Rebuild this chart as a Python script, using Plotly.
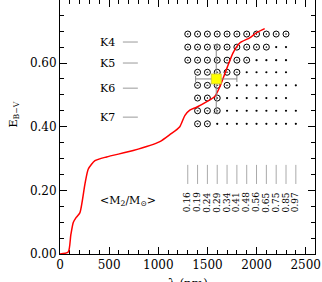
import plotly.graph_objects as go

# Red curve: E(B-V) vs wavelength
curve_x = [0, 84, 110, 135, 165, 203, 254, 288, 356, 474, 745, 1016, 1118, 1219, 1270, 1321, 1389, 1490, 1575, 1626, 1694, 1761, 1829, 1930, 1998, 2083]
curve_y = [0.0, 0.006, 0.06, 0.099, 0.115, 0.13, 0.22, 0.267, 0.293, 0.305, 0.325, 0.353, 0.375, 0.40, 0.435, 0.452, 0.461, 0.478, 0.495, 0.525, 0.58, 0.632, 0.663, 0.679, 0.695, 0.708]

# Grid of models
col_wl = [1300, 1400, 1500, 1600, 1700, 1800, 1900, 2000, 2100, 2200, 2300, 2400]
col_mass = ["0.16", "0.19", "0.24", "0.29", "0.34", "0.41", "0.48", "0.56", "0.65", "0.75", "0.85", "0.97"]
row_ebv = [0.691, 0.650, 0.609, 0.571, 0.530, 0.490, 0.450, 0.409]
circle_first = [0, 0, 0, 1, 1, 1, 1, 1]
circle_last = [10, 8, 6, 5, 4, 3, 3, 2]
dot_last = [10, 10, 10, 10, 11, 10, 11, 11]

# Spectral type markers
ktypes = ["K4", "K5", "K6", "K7"]
k_ebv = [0.666, 0.600, 0.521, 0.430]

# Best-fit point
best_x = [1590]
best_y = [0.55]
best_xerr = [210]
best_yerr = [0.107]

cx, cy, dx, dy = [], [], [], []
for r, e in enumerate(row_ebv):
    for c, w in enumerate(col_wl):
        if circle_first[r] <= c <= circle_last[r]:
            cx.append(w); cy.append(e)
        elif circle_last[r] < c <= dot_last[r]:
            dx.append(w); dy.append(e)

fig = go.Figure()
font = "DejaVu Serif"

# K-type lines
kx, ky = [], []
for e in k_ebv:
    kx += [640, 792, None]; ky += [e, e, None]
fig.add_trace(go.Scatter(x=kx, y=ky, mode="lines", line=dict(color="#999", width=1), hoverinfo="skip"))

# column ticks
vx, vy = [], []
for w in col_wl:
    vx += [w, w, None]; vy += [0.22, 0.28, None]
fig.add_trace(go.Scatter(x=vx, y=vy, mode="lines", line=dict(color="#aaa", width=1), hoverinfo="skip"))

fig.add_trace(go.Scatter(x=cx, y=cy, mode="markers",
                         marker=dict(symbol="circle-open-dot", size=6, color="black", line=dict(width=1, color="black"))))
fig.add_trace(go.Scatter(x=dx, y=dy, mode="markers", marker=dict(symbol="circle", size=2.2, color="black")))

fig.add_trace(go.Scatter(x=curve_x, y=curve_y, mode="lines", cliponaxis=False,
                         line=dict(color="red", width=1.5, shape="spline", smoothing=0.6)))

fig.add_trace(go.Scatter(x=best_x, y=best_y, mode="markers",
                         marker=dict(symbol="square", size=10, color="#ffff00", line=dict(color="#c8c040", width=0.8)),
                         error_x=dict(type="data", array=best_xerr, color="#888", thickness=1, width=3),
                         error_y=dict(type="data", array=best_yerr, color="#888", thickness=1, width=3)))

for k, e in zip(ktypes, k_ebv):
    fig.add_annotation(x=483, y=e, text=k, showarrow=False, font=dict(family=font, size=11, color="black"))

for w, m in zip(col_wl, col_mass):
    fig.add_annotation(x=w, y=0.162, text=m, textangle=-90, showarrow=False, font=dict(family=font, size=9, color="black"))

fig.add_annotation(x=695, y=0.167, text="&lt;M<sub>2</sub>/M<sub>⊙</sub>&gt;", showarrow=False,
                   font=dict(family=font, size=11, color="black"))

fig.add_annotation(xref="paper", yref="paper", x=-0.215, y=0.55, text="E<sub>B−V</sub>", textangle=-90,
                   showarrow=False, font=dict(family=font, size=11, color="black"))
fig.add_annotation(xref="paper", yref="paper", x=0.5, y=0, yanchor="top", yshift=-21, text="λ (nm)",
                   showarrow=False, font=dict(family=font, size=12, color="black"))

axis_common = dict(showline=True, linecolor="black", linewidth=1, mirror="ticks", ticks="inside",
                   tickcolor="black", ticklen=7, showgrid=False, zeroline=False, automargin=False,
                   layer="below traces",
                   tickfont=dict(family=font, size=12, color="black"))
fig.update_xaxes(range=[0, 2595], tick0=0, dtick=500,
                 minor=dict(dtick=100, ticks="inside", ticklen=4, tickcolor="black"), **axis_common)
fig.update_yaxes(range=[0, 0.798], tick0=0, dtick=0.2, tickformat=".2f",
                 minor=dict(dtick=0.05, ticks="inside", ticklen=4, tickcolor="black"), **axis_common)

fig.update_layout(width=322, height=282, margin=dict(l=60, r=7, t=0, b=28),
                  plot_bgcolor="white", paper_bgcolor="white", showlegend=False)
fig.write_html("out.html", config={"displayModeBar": False},
               post_script="document.body.style.margin='0';")
